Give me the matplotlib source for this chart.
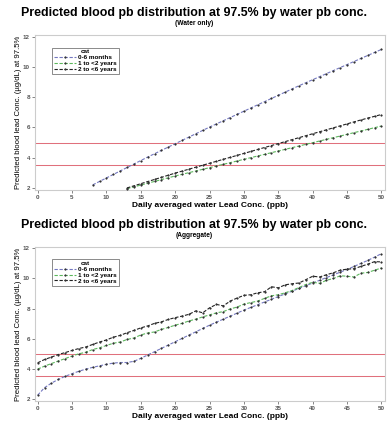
import matplotlib
matplotlib.use('Agg')
import numpy as np
import matplotlib.pyplot as plt

plt.rcParams.update({
    'font.family': 'sans-serif',
    'font.sans-serif': ['Liberation Sans', 'DejaVu Sans'],
})

# ---- Water only: predicted 97.5th percentile blood Pb (ug/dL) vs water Pb (ppb)
X_INF_W = list(range(8, 51))
INF_W = [2.20, 2.43, 2.66, 2.89, 3.12, 3.35, 3.58, 3.81, 4.04, 4.26, 4.48,
         4.70, 4.92, 5.14, 5.36, 5.58, 5.80, 6.02, 6.23, 6.44, 6.65, 6.86,
         7.07, 7.28, 7.49, 7.70, 7.91, 8.12, 8.33, 8.54, 8.75, 8.95, 9.15,
         9.35, 9.55, 9.75, 9.95, 10.15, 10.35, 10.55, 10.75, 10.95, 11.15]
X_TOD_W = list(range(13, 51))
Y1_W = [1.95, 2.07, 2.19, 2.31, 2.43, 2.55, 2.67, 2.79, 2.90, 3.01, 3.12,
        3.23, 3.34, 3.45, 3.56, 3.67, 3.78, 3.89, 4.00, 4.11, 4.22, 4.33,
        4.44, 4.55, 4.66, 4.77, 4.88, 4.99, 5.10, 5.21, 5.32, 5.43, 5.54,
        5.65, 5.76, 5.87, 5.98, 6.09]
Y2_W = [2.00, 2.14, 2.28, 2.42, 2.56, 2.70, 2.84, 2.98, 3.11, 3.24, 3.37,
        3.50, 3.63, 3.76, 3.89, 4.02, 4.15, 4.28, 4.41, 4.54, 4.67, 4.80,
        4.93, 5.06, 5.19, 5.32, 5.45, 5.58, 5.71, 5.84, 5.97, 6.10, 6.23,
        6.36, 6.49, 6.61, 6.73, 6.85]

# ---- Aggregate (all sources)
X_AGG = list(range(0, 51))
INF_A = [2.25, 2.75, 3.05, 3.30, 3.50, 3.68, 3.84, 3.98, 4.10, 4.20,
         4.30, 4.38, 4.42, 4.42, 4.50, 4.70, 4.92, 5.14, 5.36, 5.58,
         5.80, 6.02, 6.24, 6.46, 6.68, 6.90, 7.10, 7.30, 7.50, 7.70,
         7.90, 8.08, 8.26, 8.44, 8.62, 8.80, 8.98, 9.16, 9.34, 9.52,
         9.70, 9.88, 10.06, 10.24, 10.42, 10.60, 10.80, 11.00, 11.20, 11.42,
         11.65]
Y1_A = [3.98, 4.18, 4.35, 4.52, 4.68, 4.85, 5.00, 5.10, 5.28, 5.40,
        5.55, 5.70, 5.78, 5.95, 6.05, 6.25, 6.38, 6.45, 6.62, 6.75,
        6.90, 7.02, 7.18, 7.30, 7.45, 7.58, 7.72, 7.80, 7.98, 8.10,
        8.30, 8.40, 8.50, 8.68, 8.85, 8.92, 9.05, 9.20, 9.40, 9.60,
        9.75, 9.68, 9.88, 10.00, 10.18, 10.15, 10.10, 10.35, 10.40, 10.55,
        10.70]
Y2_A = [4.40, 4.62, 4.78, 4.95, 5.08, 5.22, 5.35, 5.45, 5.62, 5.78,
        5.92, 6.10, 6.22, 6.40, 6.55, 6.72, 6.85, 7.02, 7.12, 7.28,
        7.40, 7.50, 7.62, 7.85, 7.72, 8.05, 8.28, 8.18, 8.50, 8.70,
        8.88, 8.92, 9.05, 9.12, 9.45, 9.38, 9.58, 9.65, 9.70, 9.92,
        10.15, 10.10, 10.25, 10.38, 10.55, 10.62, 10.65, 10.80, 10.95, 11.12,
        11.10]

REF_LINES = [5.0, 3.5]
CATS = ['0-6 months', '1 to <2 years', '2 to <6 years']
COLS = ['#7478c0', '#5cb85c', '#222222']
TITLE = 'Predicted blood pb distribution at 97.5% by water pb conc.'
XLAB = 'Daily averaged water Lead Conc. (ppb)'
YLAB = 'Predicted blood lead Conc. (\u00b5g/dL) at 97.5%'

fig = plt.figure(figsize=(3.88, 4.22), dpi=100)
ax1 = fig.add_axes([0.090, 0.550, 0.902, 0.367])
ax2 = fig.add_axes([0.090, 0.050, 0.902, 0.365])

panels = [
    (ax1, '(Water only)', [(X_INF_W, INF_W), (X_TOD_W, Y1_W), (X_TOD_W, Y2_W)]),
    (ax2, '(Aggregate)', [(X_AGG, INF_A), (X_AGG, Y1_A), (X_AGG, Y2_A)]),
]

for ax, sub, series in panels:
    for (x, y), c, lab in zip(series, COLS, CATS):
        ax.plot(x, y, ls=(0, (3, 1.5)), color=c, lw=0.8, marker='o', ms=1.2,
                mfc='#333333', mec='#333333', mew=0.3, label=lab, zorder=3)
    for h in REF_LINES:
        ax.axhline(h, color='#e0707c', lw=0.75, zorder=1)
    ax.set_xlim(-0.4, 50.5)
    ax.set_ylim(1.87, 12.1)
    ax.set_xticks(range(0, 51, 5))
    ax.set_yticks(range(2, 13, 2))
    ax.tick_params(labelsize=4.5, length=2, width=0.5, colors='#555555', pad=1.5)
    for t in ax.get_xticklabels() + ax.get_yticklabels():
        t.set_fontweight('bold')
    for s in ax.spines.values():
        s.set_color('#cccccc'); s.set_linewidth(0.8)
    ax.set_xlabel(XLAB, fontsize=6, fontweight='bold', labelpad=1.5)
    ax.set_ylabel(YLAB, fontsize=5.6, labelpad=1)
    leg = ax.legend(title='cat', loc='upper left', bbox_to_anchor=(0.04, 0.94),
                    fontsize=4.6, title_fontsize=4.6, frameon=True, fancybox=False,
                    handlelength=3.4, handletextpad=0.4, borderpad=0.3,
                    labelspacing=0.05, edgecolor='#555555')
    leg.get_frame().set_linewidth(0.6)
    for t in leg.get_texts():
        t.set_fontweight('bold')
    leg.get_title().set_fontweight('bold')
    pos = ax.get_position()
    fig.text(0.5, pos.y1 + 0.052, TITLE, ha='center', va='center',
             fontsize=8.9, fontweight='bold')
    fig.text(0.5, pos.y1 + 0.027, sub, ha='center', va='center',
             fontsize=4.8, fontweight='bold')

fig.savefig('out.png', dpi=100)
